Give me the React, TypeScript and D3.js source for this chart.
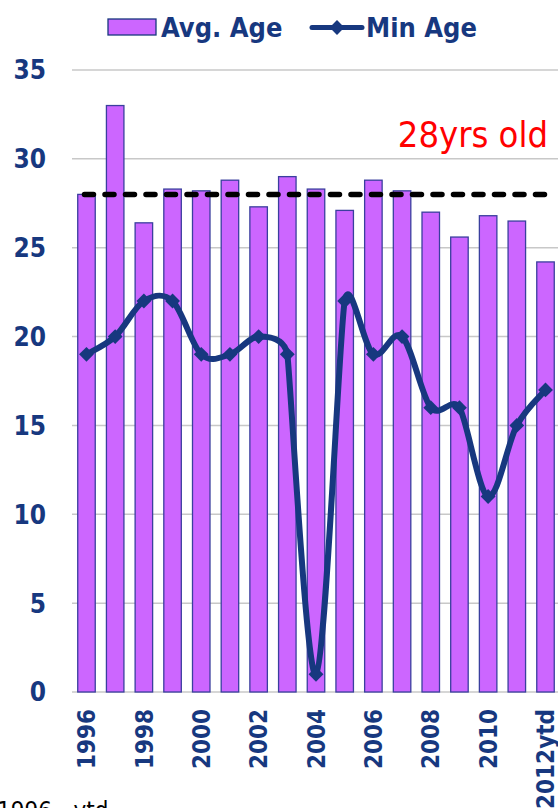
import React from 'react';
import * as d3 from 'd3';

const years = ['1996', '1997', '1998', '1999', '2000', '2001', '2002', '2003', '2004', '2005', '2006', '2007', '2008', '2009', '2010', '2011', '2012ytd'];
const avgAge = [28.0, 33.0, 26.4, 28.3, 28.2, 28.8, 27.3, 29.0, 28.3, 27.1, 28.8, 28.2, 27.0, 25.6, 26.8, 26.5, 24.2];
const minAge = [19, 20, 22, 22, 19, 19, 20, 19, 1, 22, 19, 20, 16, 16, 11, 15, 17];
const yTicks = [0, 5, 10, 15, 20, 25, 30, 35];
const threshold = 28;

const W = 558;
const H = 808;
const margin = { top: 70, right: -2, bottom: 116, left: 72 };

const navy = '#17387F';
const purple = '#CC66FF';
const font = '"DejaVu Sans Condensed", "DejaVu Sans", sans-serif';

// Excel style smoothed line: tangent from the neighbours, arm length capped at half of each adjacent segment
function smoothPath(pts: [number, number][]) {
  const dist = (a: [number, number], b: [number, number]) => Math.hypot(b[0] - a[0], b[1] - a[1]);
  const n = pts.length;
  const arms = pts.map((p, i) => {
    const prev = pts[Math.max(0, i - 1)];
    const next = pts[Math.min(n - 1, i + 1)];
    const d02 = dist(prev, next);
    if (d02 === 0) return [0, 0];
    let len = d02 / 6;
    if (i > 0) len = Math.min(len, dist(prev, p) / 2);
    if (i < n - 1) len = Math.min(len, dist(p, next) / 2);
    return [((next[0] - prev[0]) / d02) * len, ((next[1] - prev[1]) / d02) * len];
  });
  const path = d3.path();
  path.moveTo(pts[0][0], pts[0][1]);
  for (let i = 0; i < n - 1; i++) {
    const a = pts[i], b = pts[i + 1];
    path.bezierCurveTo(a[0] + arms[i][0], a[1] + arms[i][1], b[0] - arms[i + 1][0], b[1] - arms[i + 1][1], b[0], b[1]);
  }
  return path.toString();
}

export default function App() {
  const x = d3.scaleBand().domain(years).range([margin.left, W - margin.right]).paddingInner(0.39).paddingOuter(0.2);
  const y = d3.scaleLinear().domain([0, 35]).range([H - margin.bottom, margin.top]);
  const cx = (d: string) => (x(d) as number) + x.bandwidth() / 2;

  const points = minAge.map((v, i) => [cx(years[i]), y(v)] as [number, number]);
  const diamond = d3.symbol().type(d3.symbolDiamond2).size(140)();

  return (
    <svg width={W} height={H} style={{ position: 'absolute', left: 0, top: 0, background: '#fff' }} fontFamily={font}>
      {/* grid + y ticks */}
      {yTicks.map(t => (
        <g key={t}>
          <line x1={margin.left} x2={W} y1={y(t)} y2={y(t)} stroke="#c8c8c8" strokeWidth={1.5} />
          <text x={46} y={y(t)} dy="0.36em" textAnchor="end" fontSize={26} fontWeight="bold" fill={navy}>{t}</text>
        </g>
      ))}

      {/* bars */}
      {years.map((d, i) => (
        <rect key={d} x={x(d)} y={y(avgAge[i])} width={x.bandwidth()} height={y(0) - y(avgAge[i])}
          fill={purple} stroke="#3A3F9E" strokeWidth={1.3} />
      ))}

      {/* 28 yrs line */}
      <line x1={cx(years[0]) - 2} x2={cx(years[years.length - 1]) + 2} y1={y(threshold)} y2={y(threshold)}
        stroke="#000" strokeWidth={5.5} strokeDasharray="9 11.5" strokeLinecap="round" />
      <text x={548} y={147} textAnchor="end" fontSize={36} fill="#FF0000">28yrs old</text>

      {/* min age line */}
      <path d={smoothPath(points)} fill="none" stroke={navy} strokeWidth={6} strokeLinejoin="round" />
      {points.map((p, i) => (
        <path key={i} d={diamond || ''} transform={`translate(${p[0]},${p[1]})`} fill={navy} />
      ))}

      {/* x labels */}
      {years.map((d, i) => i % 2 === 0 ? (
        <text key={d} transform={`translate(${cx(d)},709) rotate(-90)`} dy="0.36em" textAnchor="end"
          fontSize={24} fontWeight="bold" fill={navy}>{d}</text>
      ) : null)}

      {/* legend */}
      <rect x={108} y={19} width={48} height={16} fill={purple} stroke={navy} strokeWidth={1.3} />
      <text x={161} y={37} fontSize={27} fontWeight="bold" fill={navy}>Avg. Age</text>
      <line x1={312} x2={362} y1={27.5} y2={27.5} stroke={navy} strokeWidth={5} strokeLinecap="round" />
      <path d={diamond || ''} transform="translate(337,27.5)" fill={navy} />
      <text x={366} y={37} fontSize={27} fontWeight="bold" fill={navy}>Min Age</text>

      <text x={-3} y={819} fontSize={24} fill="#000">1996 - ytd</text>
    </svg>
  );
}
